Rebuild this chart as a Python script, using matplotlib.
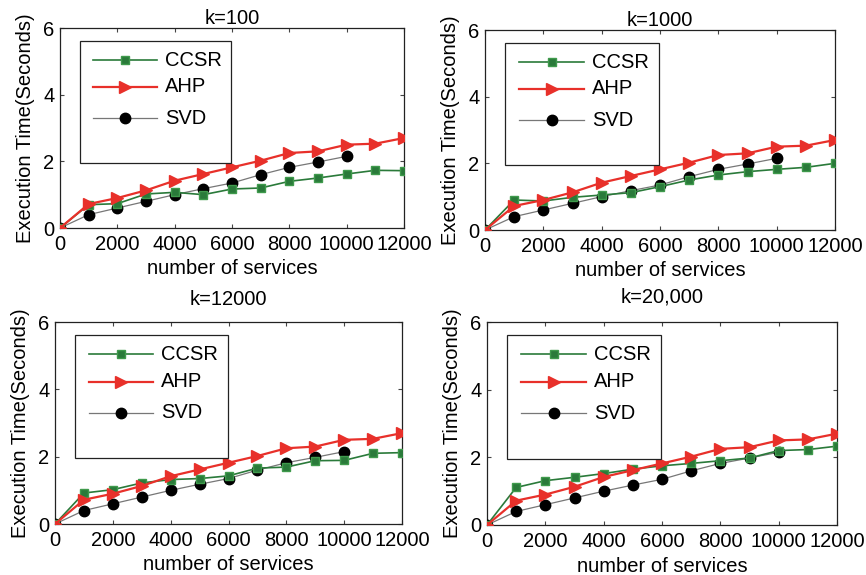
import matplotlib
matplotlib.use("Agg")
import matplotlib.pyplot as plt
from matplotlib.lines import Line2D
from matplotlib.patches import Rectangle

plt.rcParams['font.family'] = ['Liberation Sans', 'DejaVu Sans']

x_full = [0, 1000, 2000, 3000, 4000, 5000, 6000, 7000, 8000, 9000, 10000, 11000, 12000]
x_svd = [0, 1000, 2000, 3000, 4000, 5000, 6000, 7000, 8000, 9000, 10000]

ahp = [0, 0.72, 0.9, 1.13, 1.42, 1.62, 1.82, 2.02, 2.25, 2.3, 2.5, 2.53, 2.7]
svd = [0, 0.4, 0.6, 0.8, 1.0, 1.18, 1.35, 1.6, 1.82, 1.98, 2.15]

ccsr_k100 = [0, 0.7, 0.73, 1.02, 1.07, 1.0, 1.17, 1.2, 1.4, 1.5, 1.62, 1.73, 1.72]
ccsr_k1000 = [0, 0.9, 0.87, 0.98, 1.05, 1.12, 1.3, 1.5, 1.65, 1.75, 1.82, 1.88, 2.0]
ccsr_k12000 = [0, 0.92, 1.02, 1.22, 1.32, 1.35, 1.43, 1.66, 1.69, 1.88, 1.89, 2.1, 2.12]
ccsr_k20000 = [0, 1.11, 1.31, 1.41, 1.52, 1.65, 1.75, 1.82, 1.9, 1.98, 2.2, 2.23, 2.33]

titles = ["k=100", "k=1000", "k=12000", "k=20,000"]
ccsr_all = [ccsr_k100, ccsr_k1000, ccsr_k12000, ccsr_k20000]
series_names = ["CCSR", "AHP", "SVD"]
xticks = [0, 2000, 4000, 6000, 8000, 10000, 12000]
yticks = [0, 2, 4, 6]

W, H = 866, 575
fig = plt.figure(figsize=(W / 100, H / 100), dpi=100)

# pixel boxes: left, right, top, bottom
boxes = [(60, 404, 28, 228), (485, 835, 30, 230), (55, 402, 322, 524), (487, 837, 322, 525)]
title_pads = [3, 3, 12, 14]

green = '#2a7a3a'
green_edge = '#3f9a4c'
red = '#e8302a'
FS = 14.5

for box, title, ccsr, tp in zip(boxes, titles, ccsr_all, title_pads):
    l, r, t, b = box
    ax = fig.add_axes([l / W, (H - b) / H, (r - l) / W, (b - t) / H])
    ax.plot(x_svd, svd, color='#777777', lw=0.9, marker='o', ms=7.5,
            mfc='black', mec='black', zorder=3)
    ax.plot(x_full, ccsr, color=green, lw=1.2, marker='s', ms=6,
            mfc=green, mec=green_edge, zorder=4)
    ax.plot(x_full, ahp, color=red, lw=1.6, marker='>', ms=8.5,
            mfc=red, mec=red, zorder=5)
    ax.set_xlim(0, 12000)
    ax.set_ylim(0, 6)
    ax.set_xticks(xticks)
    ax.set_yticks(yticks)
    ax.tick_params(direction='in', top=True, right=True, labelsize=FS, length=3,
                   color='#444444')
    ax.tick_params(axis='x', pad=5)
    ax.tick_params(axis='y', pad=4)
    ax.set_title(title, fontsize=FS, pad=tp)
    ax.set_xlabel("number of services", fontsize=FS, labelpad=4)
    ax.set_ylabel("Execution Time(Seconds)", fontsize=14.5, labelpad=6)
    for s in ax.spines.values():
        s.set_linewidth(0.9)
        s.set_color('#222222')

    # legend box (MATLAB-style, tall frame)
    ax.add_patch(Rectangle((0.058, 0.325), 0.44, 0.61, transform=ax.transAxes,
                           fill=True, facecolor='white', edgecolor='#222222', lw=0.9, zorder=6))
    ys = [0.84, 0.705, 0.55]
    styles = [dict(color=green, lw=1.2, marker='s', ms=6, mfc=green, mec=green_edge),
              dict(color=red, lw=1.6, marker='>', ms=8.5, mfc=red, mec=red),
              dict(color='#777777', lw=0.9, marker='o', ms=7.5, mfc='black', mec='black')]
    for yy, name, st in zip(ys, series_names, styles):
        ax.add_line(Line2D([0.097, 0.283], [yy, yy], transform=ax.transAxes,
                           zorder=7, color=st['color'], lw=st['lw']))
        ax.add_line(Line2D([0.19], [yy], transform=ax.transAxes, zorder=8, ls='none',
                           marker=st['marker'], ms=st['ms'], mfc=st['mfc'], mec=st['mec']))
        ax.text(0.305, yy, name, transform=ax.transAxes, va='center', ha='left',
                fontsize=FS, zorder=8)

fig.savefig("out.png", dpi=100)
